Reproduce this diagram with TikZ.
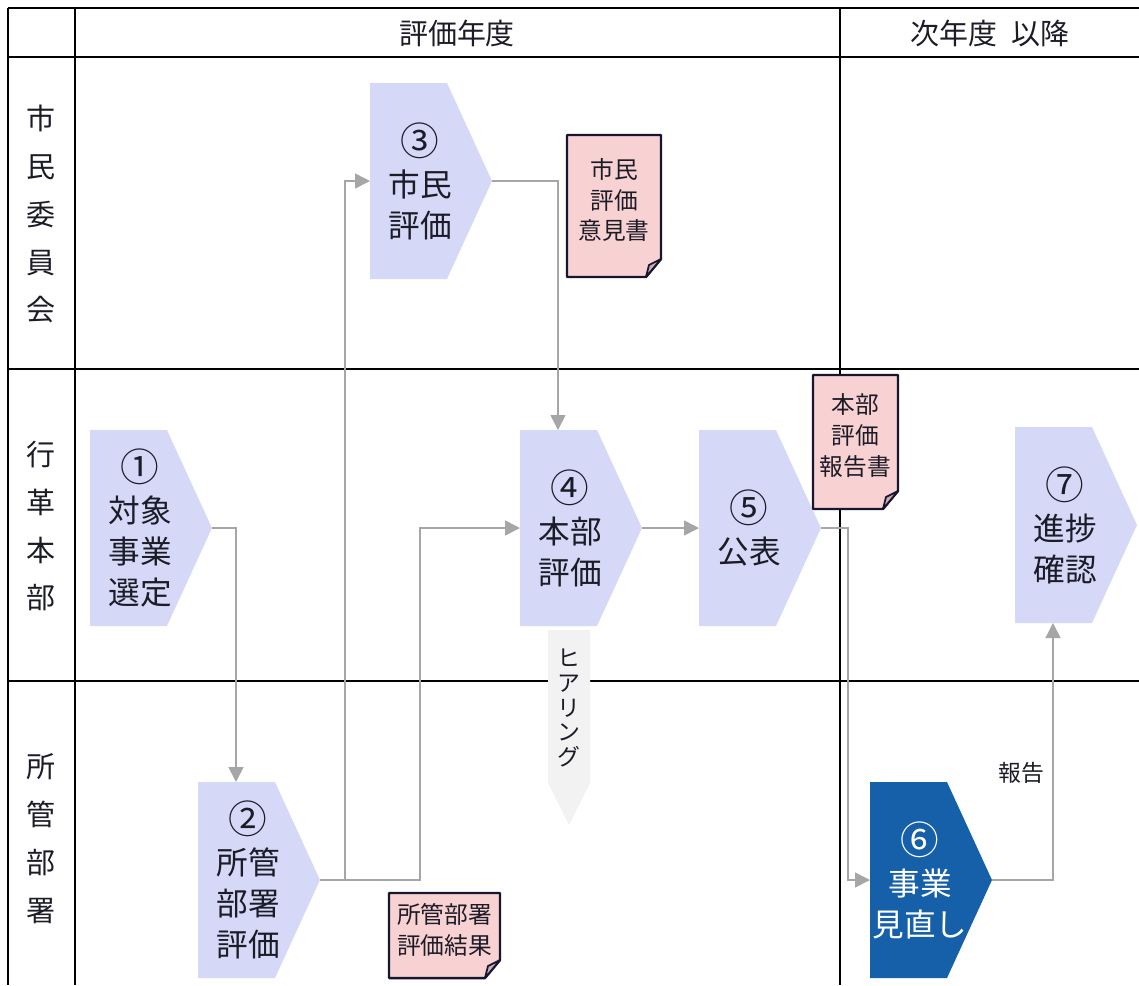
\documentclass[tikz,border=0pt]{standalone}
\usepackage{fontspec}
\setmainfont{Noto Sans CJK JP}
\usepackage{tikz}
\usetikzlibrary{arrows.meta,backgrounds}
\definecolor{chevfill}{RGB}{213,217,247}
\definecolor{chevdark}{RGB}{21,96,168}
\definecolor{docfill}{RGB}{248,210,210}
\definecolor{docfold}{RGB}{205,172,174}
\definecolor{docline}{RGB}{22,22,48}
\definecolor{connline}{RGB}{166,166,166}
\definecolor{hearfill}{RGB}{242,242,242}
\definecolor{txt}{RGB}{28,28,40}
\newcommand{\stepnum}[1]{{\fontsize{22}{23.3}\selectfont #1}}

\begin{document}
\begin{tikzpicture}[x=0.02cm,y=-0.02cm,
  every node/.style={text=txt,align=center,inner sep=0pt},
  grid/.style={line width=1.2pt,black},
  conn/.style={connline,line width=0.9pt,-{Triangle[length=0.3cm,width=0.3cm]}},
  chevtext/.style={font=\fontsize{18}{23.3}\selectfont},
  doctext/.style={font=\fontsize{13.5}{17.6}\selectfont},
  headtext/.style={font=\fontsize{16.5}{20}\selectfont},
  rowtext/.style={font=\fontsize{16.5}{27.3}\selectfont},
  heartext/.style={font=\fontsize{13}{14}\selectfont},
  smalltext/.style={font=\fontsize{13}{16}\selectfont}]
\useasboundingbox (0,0) rectangle (1139,985);

% table
\begin{scope}[on background layer]
\draw[grid] (8,8) -- (1139,8) (8,57) -- (1139,57) (8,369) -- (1139,369) (8,681) -- (1139,681);
\draw[grid] (8,8) -- (8,985) (75,8) -- (75,985) (840,8) -- (840,985);
\end{scope}
\node[headtext] (hyear) at (457,33) {評価年度};
\node[headtext] (hnext) at (990,33) {次年度\hspace{0.5em}以降};
\node[rowtext] (rcity) at (41,214) {市\\民\\委\\員\\会};
\node[rowtext] (rhq) at (41,526) {行\\革\\本\\部};
\node[rowtext] (rdept) at (41,839) {所\\管\\部\\署};

% steps
\foreach \x/\y/\n/\f/\c/\t in {
  90/430/c1/chevfill/txt/{\stepnum{①}\\対象\\事業\\選定},
  198/782/c2/chevfill/txt/{\stepnum{②}\\所管\\部署\\評価},
  370/83/c3/chevfill/txt/{\stepnum{③}\\市民\\評価},
  520/430/c4/chevfill/txt/{\stepnum{④}\\本部\\評価},
  699/430/c5/chevfill/txt/{\stepnum{⑤}\\公表},
  870/782/c6/chevdark/white/{\stepnum{⑥}\\事業\\見直し},
  1015/427/c7/chevfill/txt/{\stepnum{⑦}\\進捗\\確認}}{
  \fill[\f] (\x,\y) -- ++(77,0) -- ++(45,98) -- ++(-45,98) -- ++(-77,0) -- cycle;
  \node[chevtext,text=\c] (\n) at (\x+50,\y+98) {\t};
  \coordinate (\n-top) at (\x+38,\y);
  \coordinate (\n-bot) at (\x+38,\y+196);
  \coordinate (\n-left) at (\x,\y+98);
  \coordinate (\n-tip) at (\x+122,\y+98);
}

% hearing
\fill[hearfill] (548,630) -- (590,630) -- (590,783) -- (569,825) -- (548,783) -- cycle;
\node[heartext] (hear) at (569,708) {ヒ\\ア\\リ\\ン\\グ};

% documents
\foreach \x/\y/\w/\h/\n/\t in {
  567/135/94/142/d1/{市民\\評価\\意見書},
  813/375/85/134/d2/{本部\\評価\\報告書},
  389/893/111/85/d3/{所管部署\\評価結果}}{
  \filldraw[docline,fill=docfill,line width=1.4pt,line join=round]
    (\x,\y) -- ++(\w,0) -- ++(0,\h-18) -- ++(-15,18) -- ++(-\w+15,0) -- cycle;
  \filldraw[docline,fill=docfold,line width=1pt,line join=round]
    (\x+\w-15,\y+\h) -- (\x+\w-12,\y+\h-12) -- (\x+\w,\y+\h-18) -- cycle;
  \node[doctext] (\n) at (\x+\w/2,\y+\h/2-6) {\t};
}

% flow
\begin{scope}[on background layer]
\draw[conn] (c1-tip) -| (c2-top);
\draw[conn] (c2-tip) -- ++(25,0) |- (c3-left);
\draw[conn] (c2-tip) -- ++(100,0) |- (c4-left);
\draw[conn] (c3-tip) -| (c4-top);
\draw[conn] (c4-tip) -- (c5-left);
\draw[conn] (c5-tip) -- ++(27,0) |- (c6-left);
\draw[conn] (c6-tip) -| (c7-bot);
\end{scope}
\node[smalltext] (report) at (1021,773) {報告};
\end{tikzpicture}
\end{document}
